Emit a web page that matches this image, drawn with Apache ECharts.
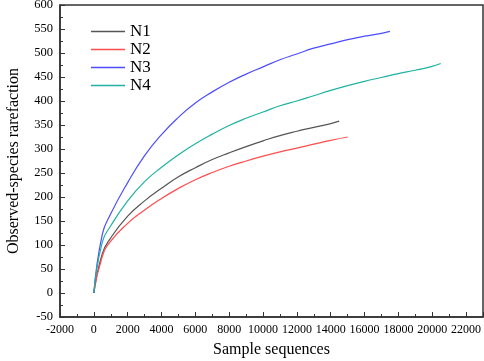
<!DOCTYPE html>
<html>
<head>
<meta charset="utf-8">
<script src="https://cdn.jsdelivr.net/npm/echarts@6/dist/echarts.min.js"></script>
<style>
  html, body { margin: 0; padding: 0; background: #fff; }
  #chart { width: 484px; height: 361px; }
</style>
</head>
<body>
<div id="chart"></div>
<script>
const n1X = [0, 500, 1000, 2000, 3000, 4000, 5000, 6000, 7000, 8000, 9000, 10000, 11000, 12000, 13000, 14000, 14500];
const n1Y = [0, 82, 115, 160, 192, 218, 242, 261, 278, 292, 305, 317, 328, 337, 345, 353, 358];
const n2X = [0, 500, 1000, 2000, 3000, 4000, 5000, 6000, 7000, 8000, 9000, 10000, 11000, 12000, 13000, 14000, 15000];
const n2Y = [0, 76, 108, 145, 173, 197, 218, 236, 251, 264, 275, 285, 294, 302, 310, 318, 325];
const n3X = [0, 500, 1000, 2000, 3000, 4000, 5000, 6000, 7000, 8000, 9000, 10000, 11000, 12000, 13000, 14000, 15000, 16000, 17000, 17500];
const n3Y = [0, 122, 165, 230, 286, 330, 366, 396, 419, 439, 456, 471, 486, 498, 510, 519, 528, 535, 541, 545];
const n4X = [0, 500, 1000, 2000, 3000, 4000, 5000, 6000, 7000, 8000, 9000, 10000, 11000, 12000, 13000, 14000, 15000, 16000, 17000, 18000, 19000, 20000, 20500];
const n4Y = [0, 106, 140, 192, 232, 262, 288, 311, 331, 349, 364, 377, 390, 400, 411, 422, 432, 441, 449, 457, 464, 472, 478];
const seriesNames = ['N1', 'N2', 'N3', 'N4'];
const seriesColors = ['#555555', '#ff4d4d', '#4d4dff', '#20b2a2'];

const pairs = (xs, ys) => xs.map((x, i) => [x, ys[i]]);
const allData = [pairs(n1X, n1Y), pairs(n2X, n2Y), pairs(n3X, n3Y), pairs(n4X, n4Y)];

const font = '"Liberation Serif", "Times New Roman", serif';
const chart = echarts.init(document.getElementById('chart'));

chart.setOption({
    animation: false,
    textStyle: { fontFamily: font },
    grid: {
        left: 60, top: 5, right: 1, bottom: 44,
        outerBoundsMode: 'none', containLabel: false,
        show: true, borderColor: '#333', borderWidth: 1.5, backgroundColor: 'transparent'
    },
    legend: {
        orient: 'vertical', left: 86, top: 18,
        icon: 'rect', itemWidth: 34, itemHeight: 1.5, itemGap: 1,
        textStyle: { fontFamily: font, fontSize: 17, color: '#000' },
        data: seriesNames
    },
    xAxis: {
        type: 'value', min: -2000, max: 23000, interval: 2000,
        name: 'Sample sequences', nameLocation: 'middle', nameGap: 25,
        nameTextStyle: { fontFamily: font, fontSize: 16, color: '#000' },
        axisLine: { show: true, onZero: false, lineStyle: { color: '#333', width: 1.5 } },
        axisTick: { show: true, inside: true, length: 5, lineStyle: { color: '#333' } },
        minorTick: { show: true, splitNumber: 2, length: 3, lineStyle: { color: '#333' } },
        axisLabel: { fontFamily: font, fontSize: 12, color: '#000', showMaxLabel: false, margin: 7, formatter: v => String(v) },
        splitLine: { show: false }
    },
    yAxis: {
        type: 'value', min: -50, max: 600, interval: 50,
        name: 'Observed-species rarefaction', nameLocation: 'middle', nameGap: 38,
        nameTextStyle: { fontFamily: font, fontSize: 16, color: '#000' },
        axisLine: { show: true, onZero: false, lineStyle: { color: '#333', width: 1.5 } },
        axisTick: { show: true, inside: true, length: 5, lineStyle: { color: '#333' } },
        minorTick: { show: true, splitNumber: 2, length: 3, lineStyle: { color: '#333' } },
        axisLabel: { fontFamily: font, fontSize: 12.5, color: '#000', margin: 7, formatter: v => String(v) },
        splitLine: { show: false }
    },
    series: seriesNames.map((name, i) => ({
        name: name,
        type: 'line',
        data: allData[i],
        smooth: true,
        symbol: 'none',
        color: seriesColors[i],
        lineStyle: { width: 1.2, color: seriesColors[i] }
    }))
});
</script>
</body>
</html>
